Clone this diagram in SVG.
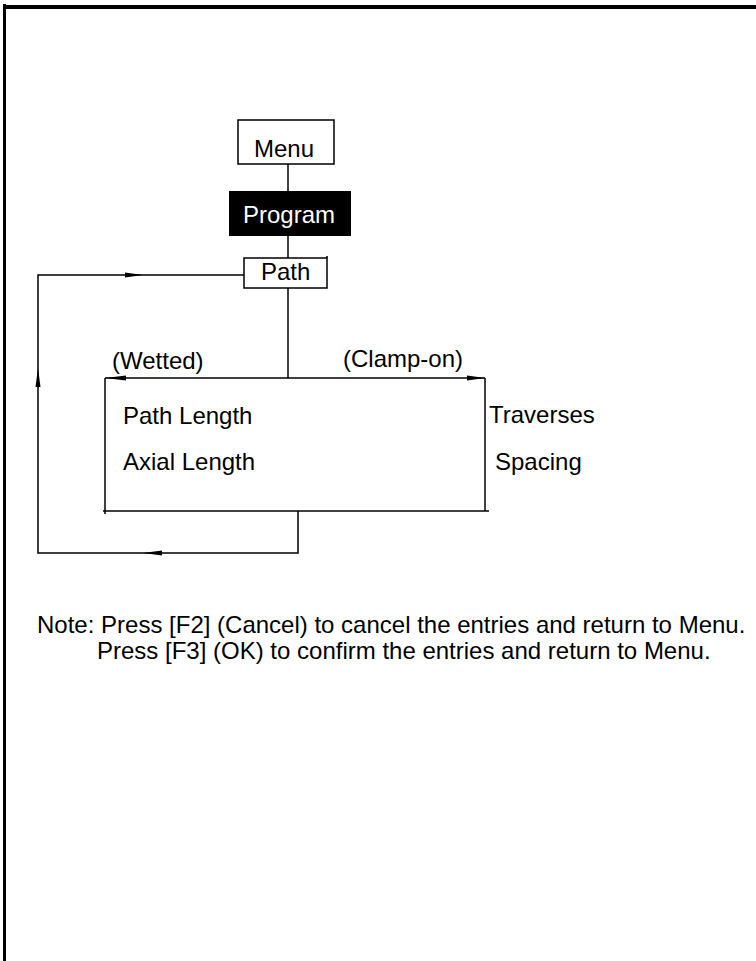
<svg xmlns="http://www.w3.org/2000/svg" width="756" height="961" viewBox="0 0 756 961">
<style>
text{font-family:"Liberation Sans",Arial,Helvetica,sans-serif;font-size:24px;fill:#000}
.ln{stroke:#000;stroke-width:1.5;fill:none}
.box{stroke:#000;stroke-width:1.5;fill:#fff}
.ah{fill:#000;stroke:none}
.frame{stroke:#000;fill:none}
</style>
<rect x="0" y="0" width="756" height="961" fill="#fff"/>
<g id="frame">
<line class="frame" x1="4.5" y1="4" x2="4.5" y2="961" stroke-width="3"/>
<line class="frame" x1="3" y1="7" x2="756" y2="7" stroke-width="4"/>
</g>
<g id="connectors">
<line class="ln" x1="288" y1="164" x2="288" y2="191"/>
<line class="ln" x1="288" y1="236" x2="288" y2="258"/>
<line class="ln" x1="288" y1="288" x2="288" y2="378"/>
<line class="ln" x1="105" y1="378" x2="485" y2="378"/>
<line class="ln" x1="105" y1="378" x2="105" y2="514"/>
<line class="ln" x1="485" y1="378" x2="485" y2="511"/>
<line class="ln" x1="103" y1="511" x2="489" y2="511"/>
<polyline class="ln" points="298,511 298,553 38,553 38,275 244,275"/>
<polygon class="ah" points="143,275 125,272.5 125,277.5"/>
<polygon class="ah" points="38,368 35.5,387 40.5,387"/>
<polygon class="ah" points="105,378 126,375.5 126,380.5"/>
<polygon class="ah" points="485,378 467,375.5 467,380.5"/>
<polygon class="ah" points="143,553 162,550.5 162,555.5"/>
</g>
<g id="menu">
<rect class="box" x="238" y="120" width="96" height="44"/>
<text x="254" y="157">Menu</text>
</g>
<g id="program">
<rect x="229" y="191" width="122" height="45" fill="#000"/>
<text x="243" y="223" style="fill:#fff">Program</text>
</g>
<g id="path">
<rect class="box" x="244" y="258" width="83" height="30"/>
<line class="ln" x1="327" y1="256" x2="327" y2="258"/>
<text x="261" y="280">Path</text>
</g>
<g id="wetted">
<text x="112" y="369">(Wetted)</text>
<text x="123" y="424">Path Length</text>
<text x="123" y="470">Axial Length</text>
</g>
<g id="clampon">
<text x="343" y="367">(Clamp-on)</text>
<text x="489" y="423">Traverses</text>
<text x="495" y="470">Spacing</text>
</g>
<g id="note">
<text x="37" y="633">Note: Press [F2] (Cancel) to cancel the entries and return to Menu.</text>
<text x="97" y="659">Press [F3] (OK) to confirm the entries and return to Menu.</text>
</g>
</svg>
